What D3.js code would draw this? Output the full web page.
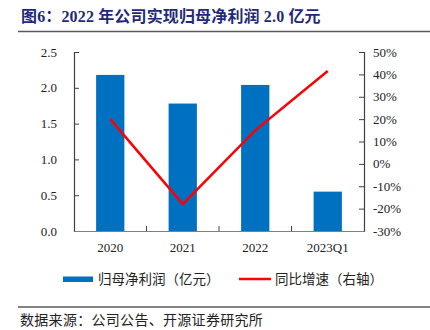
<!DOCTYPE html>
<html>
<head>
<meta charset="utf-8">
<script src="https://cdn.jsdelivr.net/npm/d3@7"></script>
<style>
  html, body { margin: 0; padding: 0; background: #fff; }
  svg { display: block; }
</style>
</head>
<body>
<div id="chart"></div>
<script>
// Periods on the category axis
const categories = ["2020", "2021", "2022", "2023Q1"];
// Net profit attributable to parent (100M CNY)
const netProfit = [2.18, 1.78, 2.04, 0.55];
// Year-over-year growth (%), plotted against the right axis
const yoyGrowth = [20.0, -18.0, 15.0, 41.5];
// Tick values for both value axes
const leftTicks = [0, 0.5, 1.0, 1.5, 2.0, 2.5];
const rightTicks = [-30, -20, -10, 0, 10, 20, 30, 40, 50];

const W = 430, H = 330;
const plot = { left: 74, right: 364, top: 52, bottom: 231 };
const serif = '"Liberation Serif", "Times New Roman", "Noto Sans CJK SC", serif';
const cjk = '"Noto Sans CJK SC", "Liberation Serif", sans-serif';

const svg = d3.select("#chart").append("svg")
  .attr("width", W).attr("height", H);

// Title and rule
svg.append("text")
  .attr("x", 21).attr("y", 22)
  .attr("font-family", '"Liberation Serif", "Noto Sans CJK SC", serif')
  .attr("font-weight", "bold")
  .attr("font-size", 16)
  .attr("letter-spacing", 0.15)
  .attr("fill", "#1f2a78")
  .text("图6：2022 年公司实现归母净利润 2.0 亿元");
svg.append("line")
  .attr("x1", 18).attr("x2", 430).attr("y1", 31.5).attr("y2", 31.5)
  .attr("stroke", "#5a5a5a").attr("stroke-width", 1.5);

// Scales
const x = d3.scaleBand().domain(categories)
  .range([plot.left, plot.right]).paddingInner(0.61).paddingOuter(0.305);
const xBand = d3.scaleBand().domain(categories)
  .range([plot.left, plot.right]);
const yL = d3.scaleLinear().domain([0, 2.5]).range([plot.bottom, plot.top]);
const yR = d3.scaleLinear().domain([-30, 50]).range([plot.bottom, plot.top]);

// Bars
svg.append("g").selectAll("rect").data(netProfit).join("rect")
  .attr("x", (d, i) => x(categories[i]))
  .attr("width", x.bandwidth())
  .attr("y", d => yL(d))
  .attr("height", d => yL(0) - yL(d))
  .attr("fill", "#0070c0");

// Axes
const axisColor = "#404040";
const gL = svg.append("g").attr("transform", `translate(${plot.left},0)`)
  .call(d3.axisRight(yL).tickValues(leftTicks).tickSize(5).tickFormat(""));
const gR = svg.append("g").attr("transform", `translate(${plot.right},0)`)
  .call(d3.axisLeft(yR).tickValues(rightTicks).tickSize(5).tickFormat(""));
const gB = svg.append("g").attr("transform", `translate(0,${plot.bottom})`)
  .call(d3.axisTop(xBand).tickValues([]).tickSizeOuter(0));
[gL, gR, gB].forEach(g => {
  g.selectAll("path").attr("stroke", axisColor).attr("stroke-width", 1.2);
  g.selectAll("line").attr("stroke", axisColor);
});
gB.select("path").attr("stroke", "#808080");
// Band separators on the category axis
svg.append("g").selectAll("line").data(categories.slice(1)).join("line")
  .attr("x1", d => xBand(d)).attr("x2", d => xBand(d))
  .attr("y1", plot.bottom).attr("y2", plot.bottom - 5)
  .attr("stroke", axisColor);

// Tick labels
svg.append("g").selectAll("text").data(leftTicks).join("text")
  .attr("x", 57).attr("y", d => yL(d) + 4.5)
  .attr("text-anchor", "end")
  .attr("font-family", serif).attr("font-size", 13).attr("fill", "#222")
  .text(d => d3.format(".1f")(d));
svg.append("g").selectAll("text").data(rightTicks).join("text")
  .attr("x", 373).attr("y", d => yR(d) + 4.5)
  .attr("font-family", serif).attr("font-size", 13).attr("fill", "#222")
  .text(d => d + "%");
svg.append("g").selectAll("text").data(categories).join("text")
  .attr("x", d => xBand(d) + xBand.bandwidth() / 2).attr("y", 252)
  .attr("text-anchor", "middle")
  .attr("font-family", serif).attr("font-size", 13).attr("fill", "#222")
  .text(d => d);

// YoY growth line
const line = d3.line()
  .x((d, i) => xBand(categories[i]) + xBand.bandwidth() / 2)
  .y(d => yR(d));
svg.append("path").datum(yoyGrowth)
  .attr("d", line)
  .attr("fill", "none").attr("stroke", "#ff0000").attr("stroke-width", 2.5);

// Legend
svg.append("rect").attr("x", 63).attr("y", 276.5).attr("width", 30).attr("height", 5.5)
  .attr("fill", "#0070c0");
svg.append("text").attr("x", 98).attr("y", 284)
  .attr("font-family", cjk).attr("font-size", 13.5).attr("fill", "#222")
  .text("归母净利润（亿元）");
svg.append("line").attr("x1", 239).attr("x2", 271).attr("y1", 279).attr("y2", 279)
  .attr("stroke", "#ff0000").attr("stroke-width", 2.5);
svg.append("text").attr("x", 275).attr("y", 284)
  .attr("font-family", cjk).attr("font-size", 13.5).attr("fill", "#222")
  .text("同比增速（右轴）");

// Source note
svg.append("line")
  .attr("x1", 18).attr("x2", 430).attr("y1", 307).attr("y2", 307)
  .attr("stroke", "#5a5a5a").attr("stroke-width", 1.5);
svg.append("text").attr("x", 20).attr("y", 325)
  .attr("font-family", cjk).attr("font-size", 14).attr("letter-spacing", 0.3)
  .attr("fill", "#222")
  .text("数据来源：公司公告、开源证券研究所");
</script>
</body>
</html>
